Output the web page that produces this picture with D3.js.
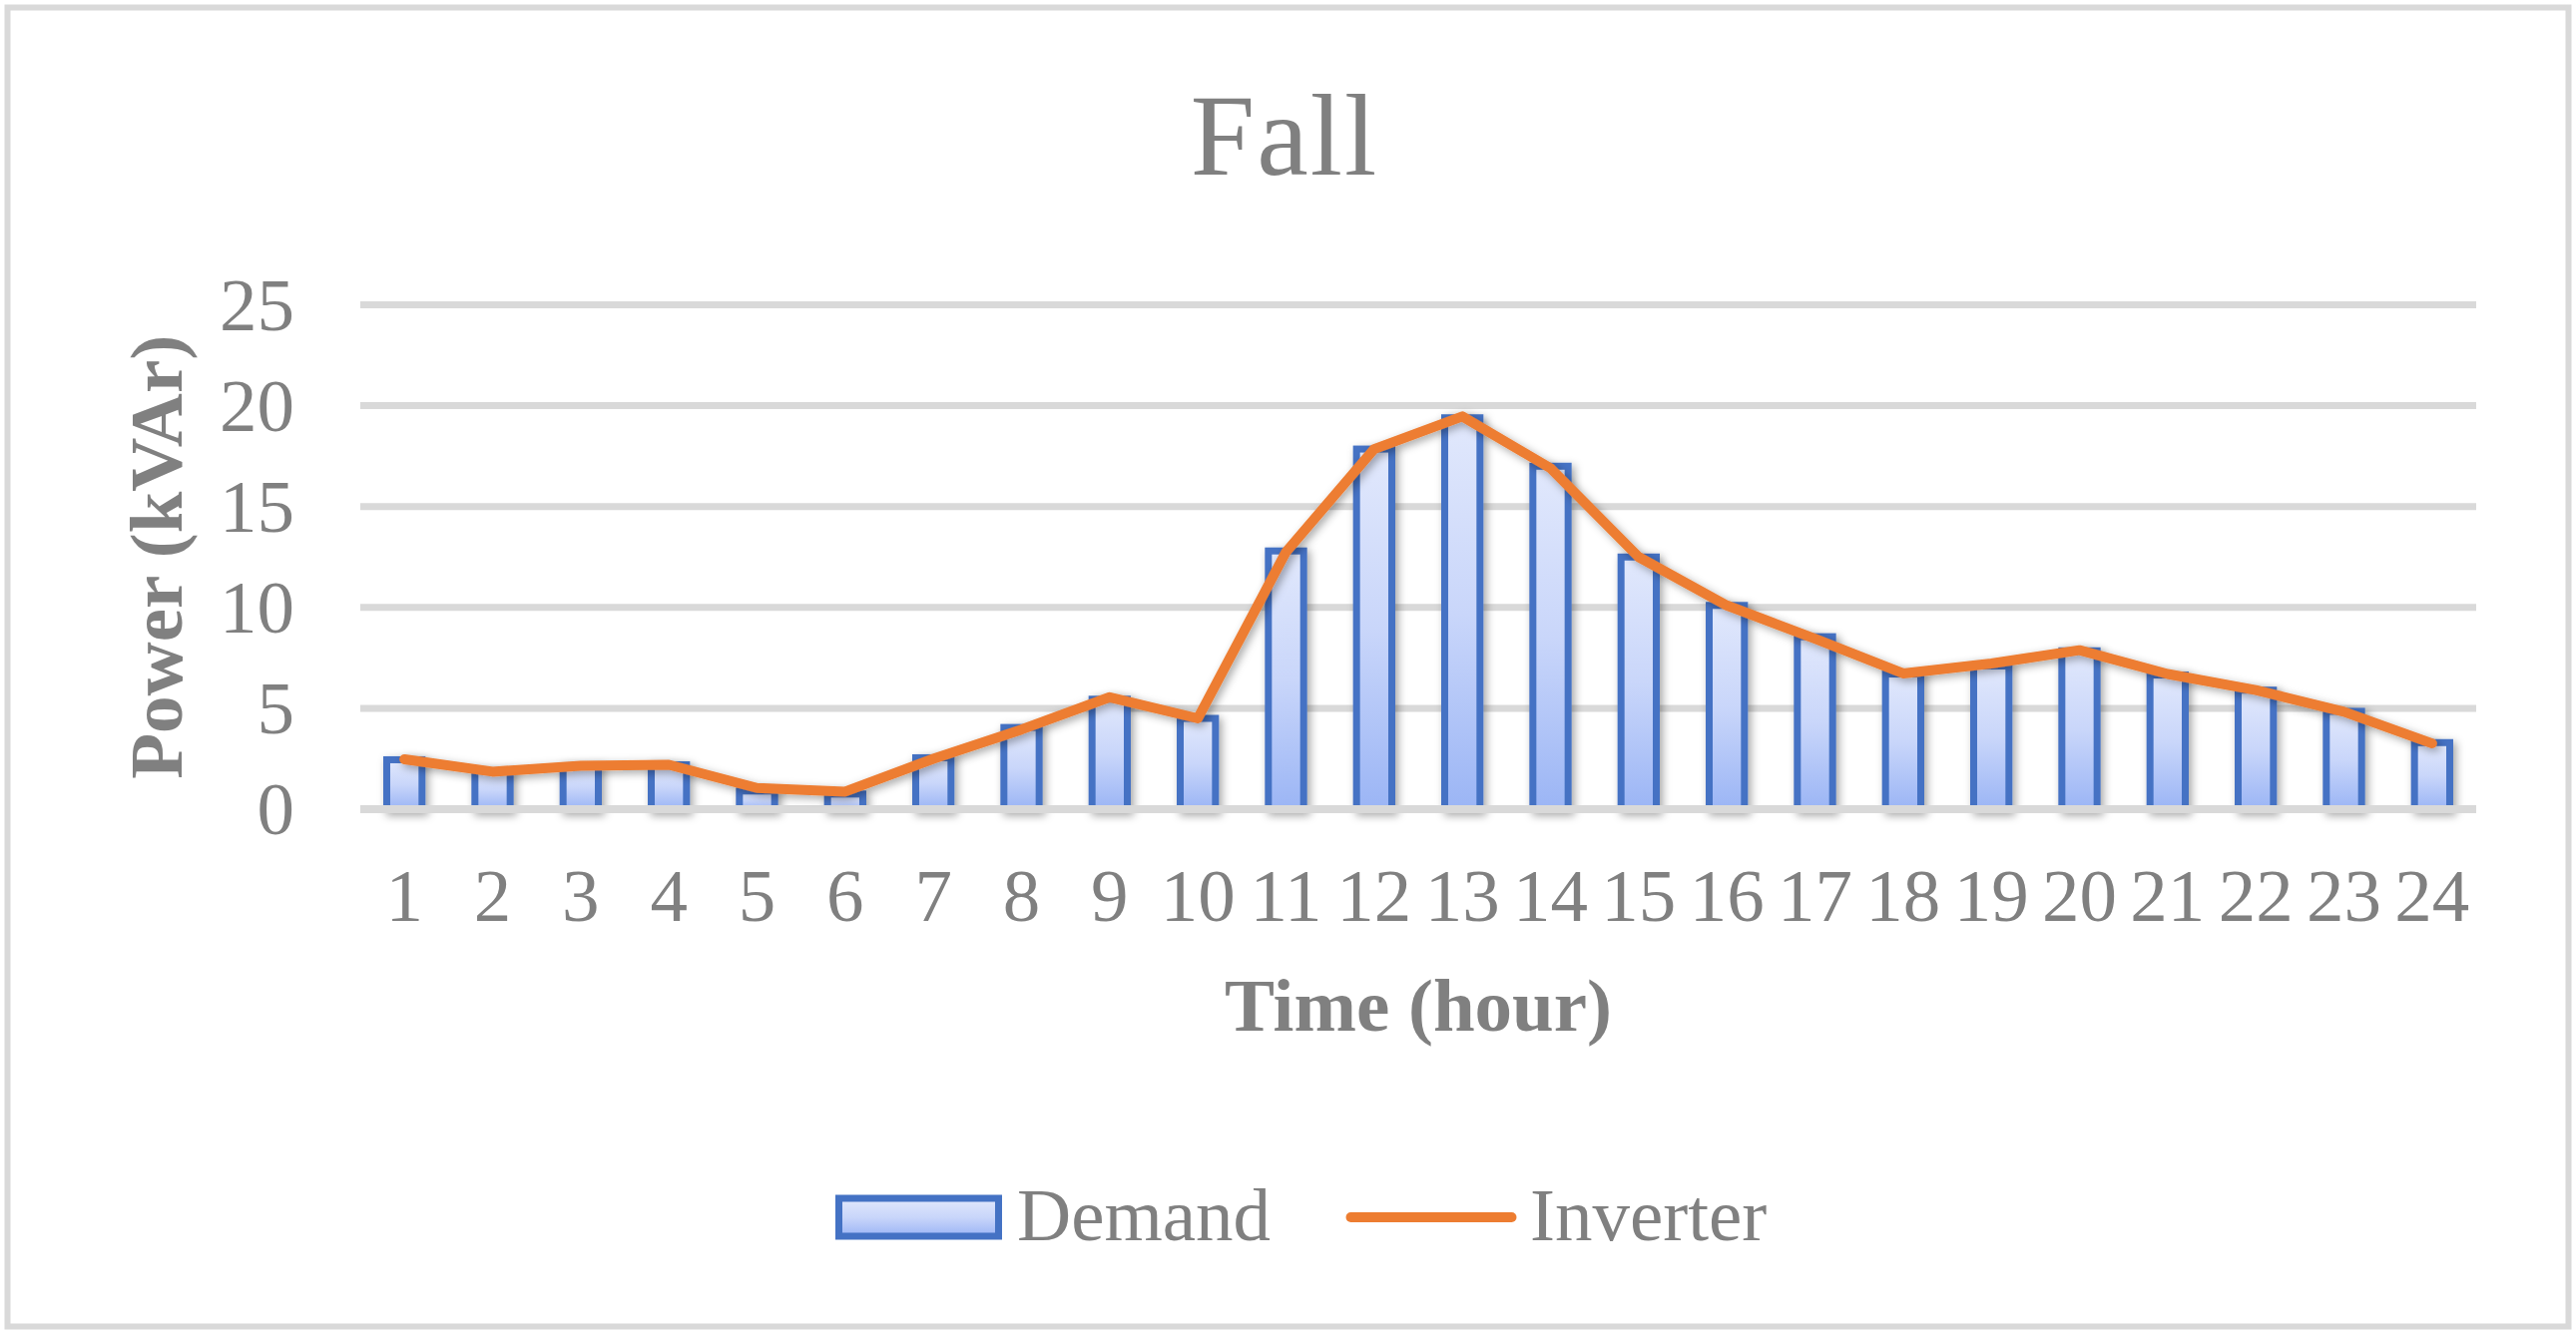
<!DOCTYPE html>
<html>
<head>
<meta charset="utf-8">
<script src="https://cdn.jsdelivr.net/npm/d3@7"></script>
<style>
  html, body { margin: 0; padding: 0; background: #ffffff; }
  svg { display: block; }
  text { font-family: "Liberation Serif", "Times New Roman", serif; fill: #808080; }
</style>
</head>
<body>
<svg id="chart" width="2581" height="1337"></svg>
<script>
// ---- data ----
const hours = ["1","2","3","4","5","6","7","8","9","10","11","12","13","14","15","16","17","18","19","20","21","22","23","24"];
const demand = [2.45, 1.9, 2.15, 2.2, 0.9, 0.75, 2.55, 4.05, 5.45, 4.5, 12.8, 17.85, 19.4, 17.0, 12.5, 10.1, 8.55, 6.7, 7.1, 7.85, 6.65, 5.9, 4.85, 3.3];
const inverter = [2.47, 1.86, 2.15, 2.2, 1.05, 0.87, 2.5, 3.95, 5.55, 4.5, 12.75, 17.85, 19.47, 16.9, 12.5, 10.1, 8.45, 6.73, 7.22, 7.88, 6.7, 5.9, 4.83, 3.26];
const yTicks = [0, 5, 10, 15, 20, 25];
const titleText = "Fall";
const xTitle = "Time (hour)";
const yTitle = "Power (kVAr)";
const seriesNames = ["Demand", "Inverter"];

// ---- layout ----
const W = 2581, H = 1337;
const plot = { left: 361, right: 2481, top: 305.5, bottom: 811 };
const svg = d3.select("#chart");

const x = d3.scaleBand().domain(hours).range([plot.left, plot.right]).paddingInner(0.6).paddingOuter(0.3);
const y = d3.scaleLinear().domain([0, 25]).range([plot.bottom, plot.top]);

const defs = svg.append("defs");
const grad = defs.append("linearGradient").attr("id", "barGrad")
  .attr("x1", 0).attr("y1", 0).attr("x2", 0).attr("y2", 1);
grad.append("stop").attr("offset", "0%").attr("stop-color", "#e1e8fc");
grad.append("stop").attr("offset", "50%").attr("stop-color", "#c9d6fa");
grad.append("stop").attr("offset", "100%").attr("stop-color", "#9bb5f5");

const shadow = defs.append("filter").attr("id", "shadow")
  .attr("x", "-50%").attr("y", "-20%").attr("width", "200%").attr("height", "140%");
shadow.append("feDropShadow").attr("dx", 3).attr("dy", 3).attr("stdDeviation", 4)
  .attr("flood-color", "#000").attr("flood-opacity", 0.35);

// background + border
svg.append("rect").attr("x", 0).attr("y", 0).attr("width", W).attr("height", H).attr("fill", "#fff");
svg.append("rect").attr("x", 7.5).attr("y", 7.5).attr("width", W - 15).attr("height", H - 15)
  .attr("fill", "none").attr("stroke", "#d9d9d9").attr("stroke-width", 6);

// title
svg.append("text").attr("x", 1287).attr("y", 175).attr("text-anchor", "middle")
  .attr("font-size", 116).attr("letter-spacing", 2).text(titleText);

// gridlines (except zero)
svg.append("g").selectAll("line").data(yTicks.filter(d => d !== 0)).join("line")
  .attr("x1", plot.left).attr("x2", plot.right)
  .attr("y1", d => y(d)).attr("y2", d => y(d))
  .attr("stroke", "#d9d9d9").attr("stroke-width", 7);

// y tick labels
svg.append("g").selectAll("text").data(yTicks).join("text")
  .attr("x", 295).attr("y", d => y(d) + 25)
  .attr("text-anchor", "end").attr("font-size", 75)
  .text(d => d);

// bars
svg.append("g").attr("filter", "url(#shadow)").selectAll("rect").data(demand).join("rect")
  .attr("x", (d, i) => x(hours[i]))
  .attr("width", x.bandwidth())
  .attr("y", d => y(d))
  .attr("height", d => y(0) - y(d))
  .attr("fill", "url(#barGrad)")
  .attr("stroke", "#4472c4").attr("stroke-width", 7);

// zero axis line
svg.append("line").attr("x1", plot.left).attr("x2", plot.right)
  .attr("y1", y(0)).attr("y2", y(0))
  .attr("stroke", "#d9d9d9").attr("stroke-width", 8);

// inverter line
const line = d3.line().x((d, i) => x(hours[i]) + x.bandwidth() / 2).y(d => y(d));
svg.append("path").datum(inverter).attr("d", line)
  .attr("fill", "none").attr("stroke", "#ed7d31").attr("stroke-width", 10)
  .attr("stroke-linejoin", "round").attr("stroke-linecap", "round")
  .attr("filter", "url(#shadow)");

// x tick labels
svg.append("g").selectAll("text").data(hours).join("text")
  .attr("x", d => x(d) + x.bandwidth() / 2).attr("y", 923)
  .attr("text-anchor", "middle").attr("font-size", 75)
  .text(d => d);

// axis titles
svg.append("text").attr("x", (plot.left + plot.right) / 2).attr("y", 1033)
  .attr("text-anchor", "middle").attr("font-size", 75).attr("font-weight", "bold")
  .text(xTitle);
svg.append("text").attr("transform", `translate(182, ${(plot.top + plot.bottom) / 2}) rotate(-90)`)
  .attr("text-anchor", "middle").attr("font-size", 75).attr("font-weight", "bold")
  .text(yTitle);

// legend
const lg = svg.append("g");
lg.append("rect").attr("x", 840.5).attr("y", 1201).attr("width", 160).attr("height", 38)
  .attr("fill", "url(#barGrad)").attr("stroke", "#4472c4").attr("stroke-width", 7);
lg.append("text").attr("x", 1019).attr("y", 1243).attr("font-size", 75).text(seriesNames[0]);
lg.append("line").attr("x1", 1353.5).attr("x2", 1514.5).attr("y1", 1220).attr("y2", 1220)
  .attr("stroke", "#ed7d31").attr("stroke-width", 10).attr("stroke-linecap", "round");
lg.append("text").attr("x", 1533).attr("y", 1243).attr("font-size", 75).text(seriesNames[1]);
</script>
</body>
</html>
